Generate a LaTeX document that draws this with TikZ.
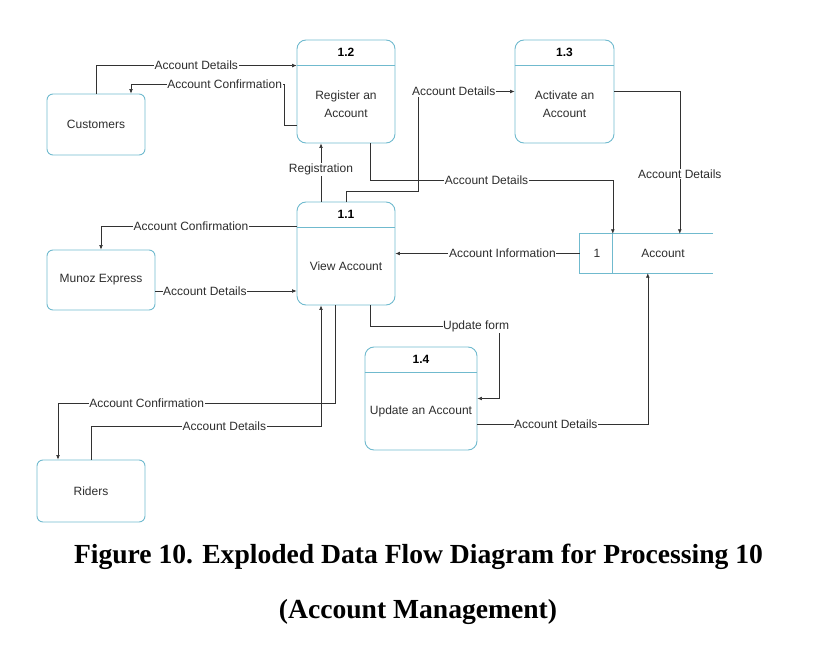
\documentclass[tikz,border=0pt]{standalone}
\usepackage{fontspec}
\setmainfont{Liberation Sans}
\newfontfamily\captionfont{Liberation Serif}
\usetikzlibrary{arrows.meta}

\definecolor{boxline}{RGB}{112,186,206}
\definecolor{flowline}{RGB}{50,50,50}
\definecolor{labeltext}{RGB}{45,45,45}

\tikzset{
  entity/.style={draw=boxline, line width=0.9pt, rounded corners=6pt, inner sep=0pt,
    text=labeltext, font=\fontsize{12}{14}\selectfont},
  process/.style={draw=boxline, line width=0.9pt, rounded corners=9pt, inner sep=0pt,
    minimum height=103pt},
  divider/.style={draw=boxline, line width=0.9pt},
  procid/.style={text=black, font=\bfseries\fontsize{12}{14}\selectfont},
  proctext/.style={text=labeltext, align=center, font=\fontsize{12}{18}\selectfont},
  flow/.style={draw=flowline, line width=0.6pt, -{Latex[length=4.5pt,width=3.8pt]}},
  flowlabel/.style={fill=white, inner sep=0.6pt, text=labeltext,
    font=\fontsize{12}{14}\selectfont},
}

% process box: [width] name, position, number, text
\newcommand{\dfdprocess}[5][98]{%
  \node[process, minimum width=#1pt] (#2) at (#3) {};
  \draw[divider] ([yshift=-26pt]#2.north west) -- ([yshift=-26pt]#2.north east);
  \node[procid] (#2id) at ([yshift=-13pt]#2.north) {#4};
  \node[proctext] (#2txt) at ([yshift=-13pt]#2.center) {#5};
}

\begin{document}
\begin{tikzpicture}[x=1pt, y=-1pt]
    \useasboundingbox (0,0) rectangle (828,650);

    % External entities
    \node[entity, minimum width=98pt, minimum height=61pt] (cust) at (96,124.5) {Customers};
    \node[entity, minimum width=108pt, minimum height=60pt] (munoz) at (101,280) {Munoz Express};
    \node[entity, minimum width=108pt, minimum height=62pt] (riders) at (91,491) {Riders};

    % Processes
    \dfdprocess{p12}{346,91.5}{1.2}{Register an\\Account}
    \dfdprocess[99]{p13}{564.5,91.5}{1.3}{Activate an\\Account}
    \dfdprocess{p11}{346,253.5}{1.1}{View Account}
    \dfdprocess[112]{p14}{421,398.5}{1.4}{Update an Account}

    % Data store
    \node[minimum width=133pt, minimum height=39pt, inner sep=0pt] (store) at (646.5,253.5) {};
    \draw[divider] (store.north east) -- (store.north west) -- (store.south west) -- (store.south east);
    \draw[divider] ([xshift=33pt]store.north west) -- ([xshift=33pt]store.south west);
    \node[proctext] (storeid) at (597,253.5) {1};
    \node[proctext] (storename) at (663,253.5) {Account};

    % Customers <-> 1.2
    \draw[flow] (cust.north) |- ([yshift=-26pt]p12.north west)
        node[flowlabel, pos=0.75] {Account Details};
    \draw[flow] ([yshift=-33.5pt]p12.west) -- ++(-12,0) -- ++(0,-41)
        -| ([xshift=35pt]cust.north) node[flowlabel, pos=0.195] {Account Confirmation};

    % 1.1 -> 1.2, 1.1 -> 1.3
    \draw[flow] ([xshift=-25pt]p11.north) -- ([xshift=-25pt]p12.south)
        node[flowlabel, pos=0.55] {Registration};
    \draw[flow] (p11.north) -- ++(0,-10) -| (418,91.5) -- (p13.west)
        node[flowlabel, pos=0.37] {Account Details};

    % flows into the data store
    \draw[flow] ([xshift=24pt]p12.south) -- ++(0,37) -| ([xshift=33pt]store.north west)
        node[flowlabel, pos=0.24] {Account Details};
    \draw[flow] (p13.east) -| ([xshift=100pt]store.north west)
        node[flowlabel, pos=0.79] {Account Details};
    \draw[flow] (store.west) -- (p11.east)
        node[flowlabel, pos=0.42] {Account Information};

    % 1.1 <-> Munoz Express
    \draw[flow] ([yshift=-25pt]p11.north west) -| (munoz.north)
        node[flowlabel, pos=0.27] {Account Confirmation};
    \draw[flow] ([yshift=-11pt]munoz.east) -- ([yshift=-37.5pt]p11.west)
        node[flowlabel, pos=0.35] {Account Details};

    % 1.1 -> 1.4 -> data store
    \draw[flow] ([xshift=24pt]p11.south) -- ++(0,21)
        -| node[flowlabel, pos=0.41] {Update form} ([xshift=22pt]p14.east) -- (p14.east);
    \draw[flow] ([yshift=-25.5pt]p14.east) -| ([xshift=68pt]store.south west)
        node[flowlabel, pos=0.23] {Account Details};

    % 1.1 <-> Riders
    \draw[flow] (riders.north) -- ++(0,-33) -| ([xshift=-25pt]p11.south)
        node[flowlabel, pos=0.29] {Account Details};
    \draw[flow] ([xshift=-11pt]p11.south) -- ++(0,98) -| ([xshift=-33pt]riders.north)
        node[flowlabel, pos=0.34] {Account Confirmation};

    % Caption
    \node[font=\captionfont\bfseries\fontsize{27.6}{32}\selectfont] (caption1) at (418.5,557)
        {Figure 10. Exploded Data Flow Diagram for Processing 10};
    \node[font=\captionfont\bfseries\fontsize{27.6}{32}\selectfont] (caption2) at (418,612)
        {(Account Management)};
\end{tikzpicture}
\end{document}
